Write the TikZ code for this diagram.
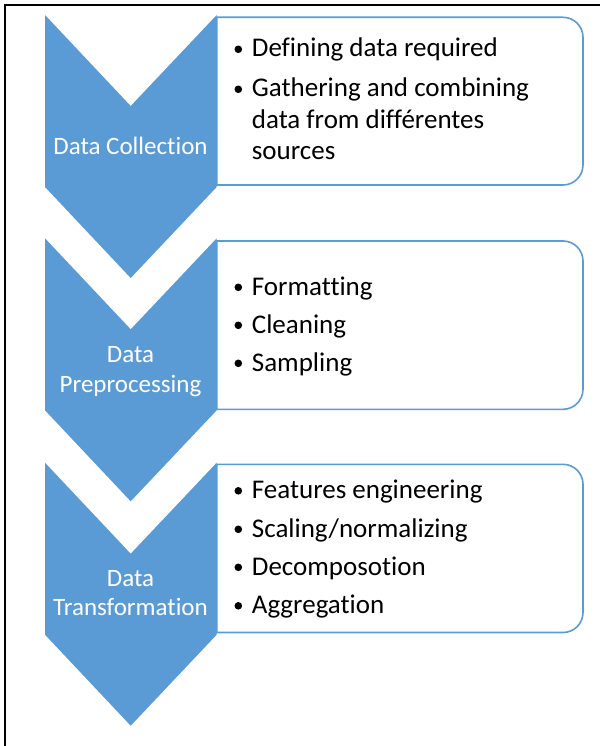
\documentclass[tikz,border=0pt]{standalone}
\usepackage{fontspec}
\setmainfont{Carlito}[Ligatures=NoCommon]
\definecolor{chev}{HTML}{5B9BD5}
\tikzset{
  chevshape/.style={fill=chev, draw=none},
  boxline/.style={draw=chev, line width=1.6pt, fill=white},
  chevtext/.style={text=white, font=\fontsize{25}{30}\selectfont, anchor=base, inner sep=0pt},
  itemtext/.style={text=black, font=\fontsize{27}{32}\selectfont, anchor=base west, inner sep=0pt},
  bul/.style={circle, fill=black, minimum size=7.6pt, inner sep=0pt}
}
\begin{document}
\begin{tikzpicture}[x=1pt,y=1pt]
\useasboundingbox (0,0) rectangle (599,-746);
% frame
\draw[line width=2pt, black] (5,-747) -- (5,-5.5) -- (600,-5.5);

% chevrons
\foreach \t/\s in {15/0, 238.3/1, 462.7/2}{
  \fill[chevshape] (45,-\t) -- (130.7,-\t-91) -- (216.7,-\t) -- (216.7,-\t-172) -- (130.7,-\t-263) -- (45,-\t-172) -- cycle;
}

% boxes
\draw[boxline] (216.7,-17.3) -- (563,-17.3) arc[start angle=90,end angle=0,radius=20] -- (583,-165) arc[start angle=0,end angle=-90,radius=20] -- (216.7,-185) -- cycle;
\draw[boxline] (216.7,-241) -- (563,-241) arc[start angle=90,end angle=0,radius=20] -- (583,-389.3) arc[start angle=0,end angle=-90,radius=20] -- (216.7,-409.3) -- cycle;
\draw[boxline] (216.7,-464.3) -- (563,-464.3) arc[start angle=90,end angle=0,radius=20] -- (583,-612.5) arc[start angle=0,end angle=-90,radius=20] -- (216.7,-632.5) -- cycle;

% chevron labels
\node[chevtext] (c1) at (130.5,-155) {Data Collection};
\node[chevtext] (c2a) at (130.5,-362.7) {Data};
\node[chevtext] (c2b) at (130.5,-392) {Preprocessing};
\node[chevtext] (c3a) at (130.5,-586.7) {Data};
\node[chevtext] (c3b) at (130.5,-615.5) {Transformation};

% box 1
\node[bul] (b11) at (238.3,-49.3) {};
\node[itemtext] (t11) at (251.7,-57) {Defining data required};
\node[bul] (b12) at (238.3,-89.3) {};
\node[itemtext] (t12) at (251.7,-97) {Gathering and combining};
\node[itemtext] (t12b) at (251.7,-128.5) {data from différentes};
\node[itemtext] (t12c) at (251.7,-160) {sources};

% box 2
\node[bul] (b21) at (238.3,-287.3) {};
\node[itemtext] (t21) at (251.7,-295) {Formatting};
\node[bul] (b22) at (238.3,-325.3) {};
\node[itemtext] (t22) at (251.7,-333) {Cleaning};
\node[bul] (b23) at (238.3,-363.3) {};
\node[itemtext] (t23) at (251.7,-371) {Sampling};

% box 3
\node[bul] (b31) at (238.3,-490.8) {};
\node[itemtext] (t31) at (251.7,-498.5) {Features engineering};
\node[bul] (b32) at (238.3,-529.3) {};
\node[itemtext] (t32) at (251.7,-537) {Scaling/normalizing};
\node[bul] (b33) at (238.3,-567.3) {};
\node[itemtext] (t33) at (251.7,-575) {Decomposotion};
\node[bul] (b34) at (238.3,-605.8) {};
\node[itemtext] (t34) at (251.7,-613.5) {Aggregation};
\end{tikzpicture}
\end{document}
